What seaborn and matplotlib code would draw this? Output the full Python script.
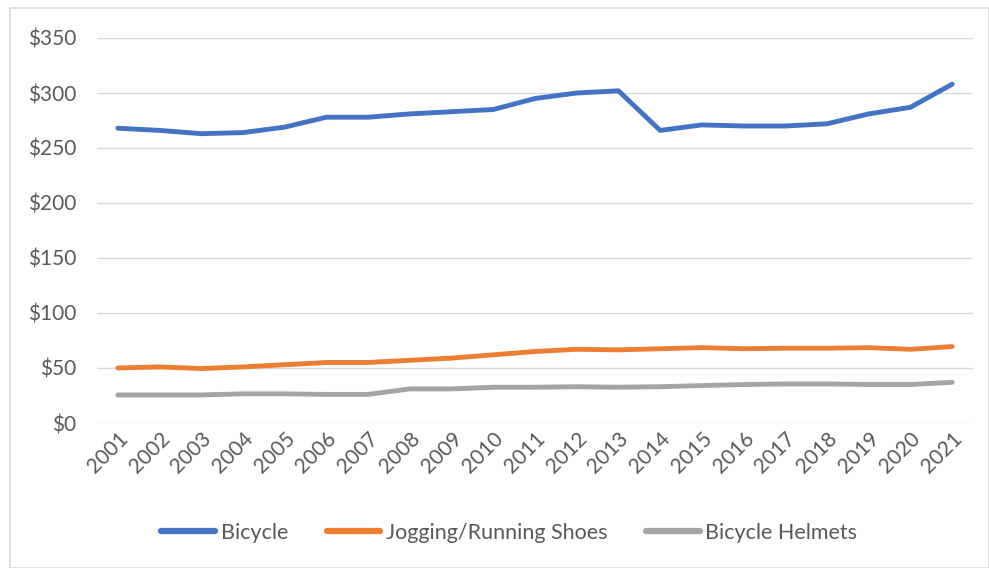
import matplotlib
matplotlib.use("Agg")
import matplotlib.pyplot as plt
import matplotlib.patches as mpatches
import seaborn as sns
import pandas as pd

years = [str(y) for y in range(2001, 2022)]
bicycle = [268, 266, 263, 264, 269, 278, 278, 281, 283, 285, 295, 300, 302, 266, 271, 270, 270, 272, 281, 287, 308]
shoes = [50, 51, 49.5, 51, 53, 55, 55, 57, 59, 62, 65, 67, 66.5, 67.5, 68.5, 67.5, 68, 68, 68.5, 67, 69.5]
helmets = [25.5, 25.5, 25.5, 26.5, 26.5, 26, 26, 31, 31, 32.5, 32.5, 33, 32.5, 33, 34, 35, 35.5, 35.5, 35, 35, 37]
series_names = ["Bicycle", "Jogging/Running Shoes", "Bicycle Helmets"]
colors = ["#4472C4", "#ED7D31", "#A5A5A5"]
yticks = [0, 50, 100, 150, 200, 250, 300, 350]

df = pd.DataFrame({
    "Year": years * 3,
    "Value": bicycle + shoes + helmets,
    "Series": [series_names[0]] * 21 + [series_names[1]] * 21 + [series_names[2]] * 21,
})

sns.set_theme(style="white")
plt.rcParams["font.family"] = ["Lato", "DejaVu Sans"]

fig = plt.figure(figsize=(9.89, 5.68), dpi=100)
ax = fig.add_axes([97/989, 1 - 423/568, (973 - 97)/989, (423 - 38)/568])

sns.lineplot(data=df, x="Year", y="Value", hue="Series", palette=colors,
             linewidth=3.5, ax=ax, sort=False, legend=False)
for ln in ax.get_lines():
    ln.set_solid_capstyle("round")
    ln.set_solid_joinstyle("round")

ax.set_xlim(-0.5, 20.5)
ax.set_ylim(0, 350)
ax.set_yticks(yticks)
ax.set_yticklabels([f"${v}" for v in yticks])
ax.grid(axis="y", color="#D9D9D9", linewidth=1)
ax.set_axisbelow(True)
for s in ax.spines.values():
    s.set_visible(False)
ax.set_xlabel("")
ax.set_ylabel("")
ax.tick_params(axis="y", length=0, pad=15, labelsize=15, labelcolor="#595959")
ax.tick_params(axis="x", length=0, pad=4, labelsize=15, labelcolor="#595959")
plt.setp(ax.get_xticklabels(), rotation=45, ha="right", rotation_mode="anchor")

handles = [plt.Line2D([], [], color=c, linewidth=4.5, solid_capstyle="round") for c in colors]
fig.legend(handles, series_names, loc="center", bbox_to_anchor=(0.515, 1 - 533/568),
           ncol=3, frameon=False, fontsize=15.5, handlelength=2.5, handletextpad=0.25,
           columnspacing=1.8, labelcolor="#595959")

fig.patches.append(mpatches.Rectangle((10/989, 0), 1 - 10/989, 1 - 8/568, transform=fig.transFigure,
                                      fill=False, edgecolor="#D9D9D9", linewidth=1.2))

fig.savefig("out.png", dpi=100)
